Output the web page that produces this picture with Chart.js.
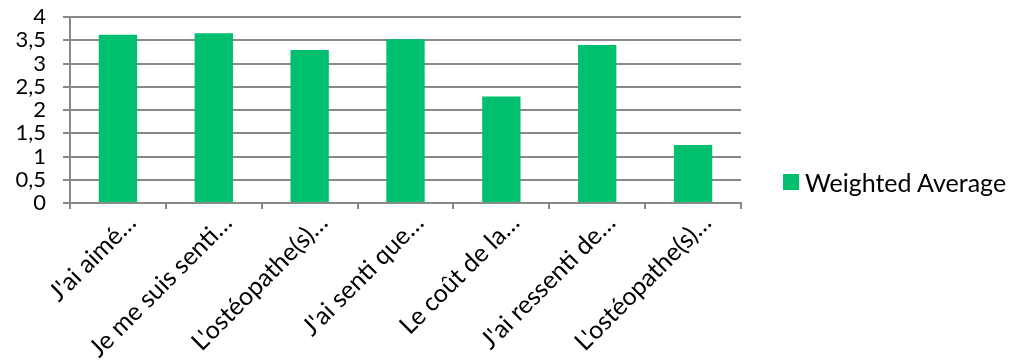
<!DOCTYPE html>
<html>
<head>
<meta charset="utf-8">
<script src="https://cdn.jsdelivr.net/npm/chart.js@4/dist/chart.umd.min.js"></script>
<style>
  html, body { margin: 0; padding: 0; background: #fff; }
  #wrap { position: relative; width: 1011px; height: 362px; }
  #legend {
    position: absolute; left: 783px; top: 167px;
    font: 25px Lato, sans-serif; color: #000; display: flex; align-items: center;
  }
  #legend span.box { display: inline-block; width: 16px; height: 16px; background: #00BF6F; margin-right: 6px; }
</style>
</head>
<body>
<div id="wrap">
  <canvas id="chart" width="1011" height="362"></canvas>
  <div id="legend"><span class="box"></span><span id="legendText"></span></div>
</div>
<script>
// data
const categories = [
  "J'ai aimé…",
  "Je me suis senti…",
  "L'ostéopathe(s)…",
  "J'ai senti que…",
  "Le coût de la…",
  "J'ai ressenti de…",
  "L'ostéopathe(s)…"
];
const seriesName = 'Weighted Average';
const weightedAverage = [3.62, 3.65, 3.29, 3.52, 2.29, 3.40, 1.25];
const yTicks = [0, 0.5, 1, 1.5, 2, 2.5, 3, 3.5, 4];

const gridGray = '#898989';
const barGreen = '#00BF6F';

document.getElementById('legendText').textContent = seriesName;

const ctx = document.getElementById('chart');
new Chart(ctx, {
  type: 'bar',
  data: {
    labels: categories,
    datasets: [{
      label: seriesName,
      data: weightedAverage,
      backgroundColor: barGreen,
      categoryPercentage: 1,
      barPercentage: 0.4,
    }],
  },
  options: {
    responsive: false,
    animation: false,
    layout: { padding: { top: 17, right: 270, left: 0, bottom: 0 } },
    plugins: {
      legend: { display: false },
      tooltip: { enabled: false },
    },
    scales: {
      y: {
        min: 0,
        max: 4,
        afterBuildTicks: (scale) => {
          scale.ticks = yTicks.map((v) => ({ value: v }));
        },
        afterFit: (scale) => {
          scale.width = 70;
          scale.paddingTop = 0;
          scale.paddingBottom = 0;
        },
        ticks: {
          autoSkip: false,
          padding: 17,
          color: '#000',
          font: { family: 'Lato', size: 22 },
          callback: (v) => String(v).replace('.', ','),
        },
        grid: { color: gridGray, lineWidth: 2, tickLength: 7 },
        border: { color: gridGray, width: 2 },
      },
      x: {
        afterFit: (scale) => {
          scale.height = 159;
          scale.paddingLeft = 0;
          scale.paddingRight = 0;
        },
        ticks: {
          autoSkip: false,
          maxRotation: 45,
          minRotation: 45,
          padding: -1,
          labelOffset: 14,
          color: '#000',
          font: { family: 'Lato', size: 25 },
        },
        grid: { color: gridGray, lineWidth: 2, drawOnChartArea: false, tickLength: 6, offset: true },
        border: { color: gridGray, width: 2 },
      },
    },
  },
});
</script>
</body>
</html>
